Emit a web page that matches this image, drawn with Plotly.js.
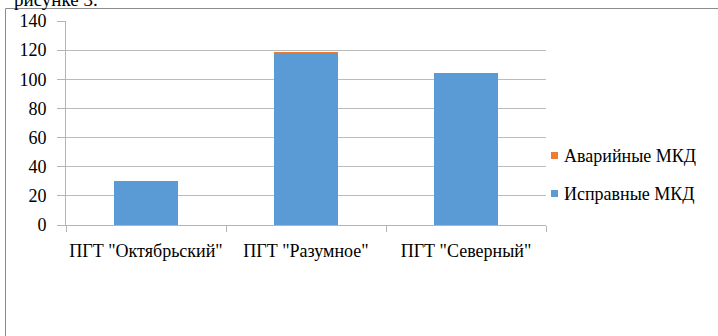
<!DOCTYPE html>
<html><head><meta charset="utf-8">
<script src="https://cdn.plot.ly/plotly-3.0.1.min.js"></script>
<style>html,body{margin:0;padding:0;background:#fff}#c{width:718px;height:336px}</style>
</head><body><div id="c"></div>
<script>
const categories = ['ПГТ "Октябрьский"', 'ПГТ "Разумное"', 'ПГТ "Северный"'];
const serviceable = [30, 118, 104];
const emergency = [0, 1, 0];
const seriesNames = ['Исправные МКД', 'Аварийные МКД'];
const seriesColors = ['#5B9BD5', '#ED7D31'];
const yTicks = [0, 20, 40, 60, 80, 100, 120, 140];
const captionText = 'рисунке 3.';

const W = 718, H = 336, L = 66, R = 546, T = 21, B = 225;
const px = x => (x - L) / (R - L);
const py = y => (B - y) / (B - T);
const FAM = 'Liberation Serif';
const mkFont = (size) => ({family: FAM, size: size, color: '#000000'});

const traces = [serviceable, emergency].map((vals, i) => ({
  type: 'bar', x: categories, y: vals, name: seriesNames[i],
  marker: {color: seriesColors[i], line: {width: 0}}, showlegend: false, hoverinfo: 'skip'
}));

const legendRows = [{i: 1, cy: 155.5}, {i: 0, cy: 193.5}];
const shapes = [
  {type: 'rect', xref: 'paper', yref: 'paper', x0: px(5.5), x1: px(760), y0: py(400), y1: py(8.5),
   line: {color: '#8c8c8c', width: 1}, fillcolor: 'rgba(0,0,0,0)', layer: 'below'}
];
const annotations = [
  {xref: 'paper', yref: 'paper', x: px(100), y: py(12), xanchor: 'right', yanchor: 'bottom',
   text: captionText, showarrow: false, font: mkFont(19)}
];
legendRows.forEach(r => {
  shapes.push({type: 'rect', xref: 'paper', yref: 'paper', x0: px(551), x1: px(558), y0: py(r.cy + 3.5), y1: py(r.cy - 3.5),
    line: {width: 0}, fillcolor: seriesColors[r.i]});
  annotations.push({xref: 'paper', yref: 'paper', x: px(562), y: py(r.cy), xanchor: 'left', yanchor: 'middle',
    text: seriesNames[r.i], showarrow: false, font: mkFont(18)});
});

const layout = {
  width: W, height: H, margin: {l: L, r: W - R, t: T, b: H - B},
  paper_bgcolor: '#fff', plot_bgcolor: '#fff', barmode: 'stack', bargap: 0.6,
  showlegend: false, font: {family: FAM, size: 18, color: '#000000'},
  xaxis: {type: 'category', showgrid: false, showline: true, linecolor: '#b4b4b4', linewidth: 1,
    ticks: 'outside', tickson: 'boundaries', ticklen: 6, tickcolor: '#b4b4b4', ticklabelstandoff: 9,
    tickangle: 0, tickfont: mkFont(18), zeroline: false, fixedrange: true},
  yaxis: {range: [0, 140], tickvals: yTicks, ticktext: yTicks.map(String), showgrid: true, gridcolor: '#bcbcbc', gridwidth: 1,
    showline: true, linecolor: '#b4b4b4', linewidth: 1, ticks: 'outside', ticklen: 8, tickcolor: '#b4b4b4',
    ticklabelstandoff: 7, tickfont: mkFont(18), zeroline: false, fixedrange: true},
  shapes: shapes, annotations: annotations
};
Plotly.newPlot('c', traces, layout, {staticPlot: true});
</script></body></html>
